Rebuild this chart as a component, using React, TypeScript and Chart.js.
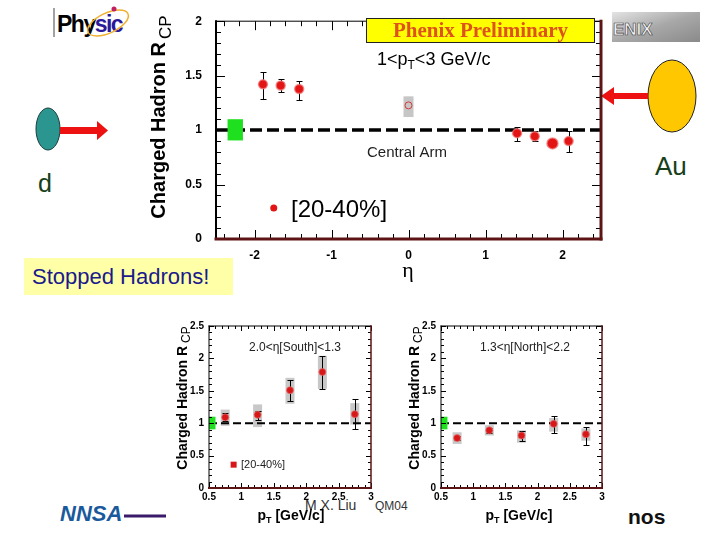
import React, { useEffect, useRef } from "react";
import { Chart, registerables } from "chart.js";

Chart.register(...registerables);

// ---------------- Main panel: R_CP vs eta (1<pT<3 GeV/c, 20-40%) ----------------
const etaValues = [-1.89, -1.66, -1.42, 1.41, 1.64, 1.87, 2.08];
const rcpValues = [1.42, 1.41, 1.377, 0.972, 0.943, 0.878, 0.899];
const rcpErrLow = [1.29, 1.354, 1.28, 0.896, 0.896, 0.878, 0.8];
const rcpErrHigh = [1.53, 1.465, 1.45, 1.033, 0.99, 0.878, 0.996];
const centralEta = [0.0];
const centralRcp = [1.227];
const centralSysLow = [1.12];
const centralSysHigh = [1.31];
const normBoxEta = [-2.35, -2.15];
const normBoxRcp = [0.905, 1.1];
const legendPointMain = [-1.75, 0.285];
const etaTicks = [-2, -1, 0, 1, 2];
const rcpTicksMain = [0, 0.5, 1, 1.5, 2];

// ---------------- Small panels: R_CP vs pT ----------------
const ptValues = [0.75, 1.25, 1.75, 2.25, 2.75];
const southRcp = [1.09, 1.13, 1.51, 1.79, 1.14];
const southErrLow = [1.03, 1.05, 1.35, 1.53, 0.91];
const southErrHigh = [1.15, 1.195, 1.66, 2.04, 1.38];
const southSysLow = [0.96, 0.94, 1.3, 1.53, 0.98];
const southSysHigh = [1.21, 1.29, 1.7, 2.04, 1.31];
const northRcp = [0.77, 0.89, 0.81, 0.99, 0.83];
const northErrLow = [0.74, 0.85, 0.73, 0.85, 0.67];
const northErrHigh = [0.8, 0.93, 0.88, 1.11, 0.94];
const northSysLow = [0.68, 0.81, 0.7, 0.87, 0.73];
const northSysHigh = [0.86, 0.97, 0.89, 1.08, 0.92];
const ptTicks = [0.5, 1, 1.5, 2, 2.5, 3];
const rcpTicksSmall = [0, 0.5, 1, 1.5, 2, 2.5];
const normBoxPt = [0.5, 0.6];
const legendPointSmall = [0.88, 0.36];

const FONT = "'Liberation Sans', Arial, Helvetica, sans-serif";
const SERIF = "'Liberation Serif', 'Times New Roman', serif";
const DARK = "#5e1414";

type Run = [string, string, number];

function drawRuns(ctx: any, runs: Run[], x: number, y: number, align: string, color: string) {
  let total = 0;
  const widths = runs.map(([t, f]) => {
    ctx.font = f;
    const w = ctx.measureText(t).width;
    total += w;
    return w;
  });
  let cx = align === "center" ? x - total / 2 : x;
  ctx.save();
  ctx.fillStyle = color;
  ctx.textAlign = "left";
  ctx.textBaseline = "alphabetic";
  runs.forEach(([t, f, dy], i) => {
    ctx.font = f;
    ctx.fillText(t, cx, y + dy);
    cx += widths[i];
  });
  ctx.restore();
}

function drawYTitle(ctx: any, baseX: number, cy: number, mainFont: string, subFont: string, subShift: number) {
  ctx.save();
  ctx.translate(baseX, cy);
  ctx.rotate(-Math.PI / 2);
  ctx.font = mainFont;
  const w1 = ctx.measureText("Charged Hadron R").width;
  ctx.font = subFont;
  const w2 = ctx.measureText("CP").width;
  const total = w1 + 3 + w2;
  ctx.fillStyle = "#000";
  ctx.textAlign = "left";
  ctx.textBaseline = "alphabetic";
  ctx.font = mainFont;
  ctx.fillText("Charged Hadron R", -total / 2, 0);
  ctx.font = subFont;
  ctx.fillText("CP", -total / 2 + w1 + 3, subShift);
  ctx.restore();
}

function makeRange(a: number, b: number, step: number) {
  const out: number[] = [];
  const n = Math.round((b - a) / step);
  for (let i = 0; i <= n; i++) out.push(+(a + i * step).toFixed(4));
  return out;
}

interface FrameCfg {
  xMinor: number[];
  xMajor: number[];
  yMinor: number[];
  yMajor: number[];
  majLen: number;
  minLen: number;
  leftW: number;
  topW: number;
  rightW: number;
  bottomW: number;
}

function drawFrame(chart: any, c: FrameCfg) {
  const { ctx, chartArea: a } = chart;
  const xs = chart.scales.x;
  const ys = chart.scales.y;
  const isMaj = (arr: number[], v: number) => arr.some((m) => Math.abs(m - v) < 1e-6);
  const seg = (x1: number, y1: number, x2: number, y2: number) => {
    ctx.beginPath();
    ctx.moveTo(x1, y1);
    ctx.lineTo(x2, y2);
    ctx.stroke();
  };
  ctx.save();
  ctx.strokeStyle = "#000";
  ctx.lineWidth = 1;
  c.xMinor.forEach((v) => {
    const p = Math.round(xs.getPixelForValue(v)) + 0.5;
    const L = isMaj(c.xMajor, v) ? c.majLen : c.minLen;
    seg(p, a.bottom, p, a.bottom - L);
    seg(p, a.top, p, a.top + L);
  });
  c.yMinor.forEach((v) => {
    const p = Math.round(ys.getPixelForValue(v)) + 0.5;
    const L = isMaj(c.yMajor, v) ? c.majLen : c.minLen;
    seg(a.left, p, a.left + L, p);
    seg(a.right, p, a.right - L, p);
  });
  ctx.lineCap = "square";
  ctx.strokeStyle = "#000";
  ctx.lineWidth = c.topW;
  seg(a.left, a.top, a.right, a.top);
  ctx.lineWidth = c.leftW;
  seg(a.left, a.top, a.left, a.bottom);
  ctx.strokeStyle = DARK;
  ctx.lineWidth = c.bottomW;
  seg(a.left, a.bottom, a.right, a.bottom);
  ctx.lineWidth = c.rightW;
  seg(a.right, a.top, a.right, a.bottom);
  ctx.restore();
}

function drawErrorBars(chart: any, xv: number[], lo: number[], hi: number[], cap: number) {
  const { ctx } = chart;
  const xs = chart.scales.x;
  const ys = chart.scales.y;
  ctx.save();
  ctx.strokeStyle = "#000";
  ctx.lineWidth = 1;
  xv.forEach((v, i) => {
    if (hi[i] - lo[i] < 1e-6) return;
    const px = Math.round(xs.getPixelForValue(v)) + 0.5;
    const y1 = Math.round(ys.getPixelForValue(hi[i])) + 0.5;
    const y2 = Math.round(ys.getPixelForValue(lo[i])) + 0.5;
    ctx.beginPath();
    ctx.moveTo(px, y1);
    ctx.lineTo(px, y2);
    ctx.moveTo(px - cap, y1);
    ctx.lineTo(px + cap, y1);
    ctx.moveTo(px - cap, y2);
    ctx.lineTo(px + cap, y2);
    ctx.stroke();
  });
  ctx.restore();
}

function drawSysBoxes(chart: any, xv: number[], lo: number[], hi: number[], half: number, color: string) {
  const { ctx } = chart;
  const xs = chart.scales.x;
  const ys = chart.scales.y;
  ctx.save();
  ctx.fillStyle = color;
  xv.forEach((v, i) => {
    const px = xs.getPixelForValue(v);
    const y1 = ys.getPixelForValue(hi[i]);
    const y2 = ys.getPixelForValue(lo[i]);
    ctx.fillRect(px - half, y1, half * 2, y2 - y1);
  });
  ctx.restore();
}

function drawDataBox(chart: any, xr: number[], yr: number[], color: string) {
  const { ctx } = chart;
  const xs = chart.scales.x;
  const ys = chart.scales.y;
  const x1 = xs.getPixelForValue(xr[0]);
  const x2 = xs.getPixelForValue(xr[1]);
  const y1 = ys.getPixelForValue(yr[1]);
  const y2 = ys.getPixelForValue(yr[0]);
  ctx.save();
  ctx.fillStyle = color;
  ctx.fillRect(x1, y1, x2 - x1, y2 - y1);
  ctx.restore();
}

function axisTicks(font: number, padding: number) {
  return {
    color: "#000",
    font: { family: FONT, size: font, weight: "bold" },
    padding,
    maxRotation: 0,
    autoSkip: false,
    callback: (v: any) => String(v),
  };
}

function buildMain() {
  const OX = 130;
  const OY = 0;
  const plugin = {
    id: "mainDecor",
    beforeDatasetsDraw(chart: any) {
      drawSysBoxes(chart, centralEta, centralSysLow, centralSysHigh, 5, "#c6c6c6");
      drawErrorBars(chart, etaValues, rcpErrLow, rcpErrHigh, 3);
    },
    afterDatasetsDraw(chart: any) {
      drawDataBox(chart, normBoxEta, normBoxRcp, "#1fe01f");
      drawFrame(chart, {
        xMinor: makeRange(-2.4, 2.4, 0.2),
        xMajor: etaTicks,
        yMinor: makeRange(0, 2, 0.1),
        yMajor: rcpTicksMain,
        majLen: 9,
        minLen: 5,
        leftW: 2,
        topW: 1,
        rightW: 3,
        bottomW: 3,
      });
    },
    afterDraw(chart: any) {
      const { ctx } = chart;
      const xs = chart.scales.x;
      const ys = chart.scales.y;
      // Phenix Preliminary box
      ctx.save();
      ctx.fillStyle = "#ffff00";
      ctx.fillRect(366.5 - OX, 18 - OY, 228, 24);
      ctx.strokeStyle = "#222";
      ctx.lineWidth = 1;
      ctx.strokeRect(366.5 - OX, 18.5 - OY, 228, 24);
      ctx.restore();
      drawRuns(ctx, [["Phenix Preliminary", `bold 21px ${SERIF}`, 0]], 480.5 - OX, 37 - OY, "center", "#de521c");
      drawRuns(
        ctx,
        [
          ["1<p", `18px ${FONT}`, 0],
          ["T", `12px ${FONT}`, 4],
          ["<3 GeV/c", `18px ${FONT}`, 0],
        ],
        377 - OX,
        65 - OY,
        "left",
        "#000"
      );
      drawRuns(ctx, [["Central Arm", `15px ${FONT}`, 0]], 367 - OX, 157 - OY, "left", "#222");
      // legend marker
      ctx.save();
      ctx.fillStyle = "#e31414";
      ctx.beginPath();
      ctx.arc(xs.getPixelForValue(legendPointMain[0]), ys.getPixelForValue(legendPointMain[1]), 3.5, 0, Math.PI * 2);
      ctx.fill();
      ctx.restore();
      drawRuns(ctx, [["[20-40%]", `24px ${FONT}`, 0]], 291 - OX, 217 - OY, "left", "#000");
      drawRuns(ctx, [["η", `22px ${SERIF}`, 0]], 408 - OX, 277 - OY, "center", "#000");
      drawYTitle(ctx, 165 - OX, 117 - OY, `bold 20px ${FONT}`, `17px ${FONT}`, 6);
    },
  };
  return {
    type: "scatter",
    data: {
      datasets: [
        {
          type: "line",
          data: [
            { x: -2.5, y: 1 },
            { x: 2.5, y: 1 },
          ],
          borderColor: "#000",
          borderWidth: 3.5,
          borderDash: [12, 5],
          pointRadius: 0,
          order: 3,
        },
        {
          data: etaValues.map((x, i) => ({ x, y: rcpValues[i] })),
          backgroundColor: "#e31414",
          borderColor: "rgba(240,120,120,0.75)",
          borderWidth: 1.5,
          pointRadius: [4.5, 4.5, 4.5, 4.5, 4.5, 5.5, 4.5],
          order: 0,
        },
        {
          data: centralEta.map((x, i) => ({ x, y: centralRcp[i] })),
          backgroundColor: "rgba(0,0,0,0)",
          borderColor: "#d83838",
          borderWidth: 1,
          pointRadius: 3.5,
          order: 1,
        },
      ],
    },
    options: {
      responsive: false,
      animation: false,
      events: [],
      layout: { padding: { left: 0, top: 12, right: 9, bottom: 0 } },
      plugins: { legend: { display: false }, tooltip: { enabled: false } },
      scales: {
        x: {
          type: "linear",
          min: -2.5,
          max: 2.5,
          grid: { display: false, drawTicks: false },
          border: { display: false },
          ticks: axisTicks(12, 9),
          afterBuildTicks: (s: any) => {
            s.ticks = etaTicks.map((v) => ({ value: v }));
          },
          afterFit: (s: any) => {
            s.height = 51;
          },
        },
        y: {
          type: "linear",
          min: 0,
          max: 2,
          grid: { display: false, drawTicks: false },
          border: { display: false },
          ticks: axisTicks(12, 14),
          afterBuildTicks: (s: any) => {
            s.ticks = rcpTicksMain.map((v) => ({ value: v }));
          },
          afterFit: (s: any) => {
            s.width = 86;
          },
        },
      },
    },
    plugins: [plugin],
  };
}

interface SmallCfg {
  ox: number;
  oy: number;
  yAxisW: number;
  padRight: number;
  rcp: number[];
  errLo: number[];
  errHi: number[];
  sysLo: number[];
  sysHi: number[];
  label: string;
  labelX: number;
  yTitleX: number;
  xTitleX: number;
  legend: boolean;
}

function buildSmall(c: SmallCfg) {
  const OX = c.ox;
  const OY = c.oy;
  const plugin = {
    id: "smallDecor",
    beforeDatasetsDraw(chart: any) {
      drawSysBoxes(chart, ptValues, c.sysLo, c.sysHi, 4.5, "#c8c8c8");
      drawErrorBars(chart, ptValues, c.errLo, c.errHi, 3);
    },
    afterDatasetsDraw(chart: any) {
      drawDataBox(chart, normBoxPt, normBoxRcp, "#1fe01f");
      drawFrame(chart, {
        xMinor: makeRange(0.5, 3, 0.1),
        xMajor: ptTicks,
        yMinor: makeRange(0, 2.5, 0.1),
        yMajor: rcpTicksSmall,
        majLen: 5,
        minLen: 3,
        leftW: 1,
        topW: 1,
        rightW: 1.5,
        bottomW: 2,
      });
    },
    afterDraw(chart: any) {
      const { ctx } = chart;
      const xs = chart.scales.x;
      const ys = chart.scales.y;
      drawRuns(ctx, [[c.label, `12px ${FONT}`, 0]], c.labelX - OX, 351 - OY, "center", "#222");
      if (c.legend) {
        ctx.save();
        ctx.fillStyle = "#d81818";
        ctx.fillRect(xs.getPixelForValue(legendPointSmall[0]) - 3, ys.getPixelForValue(legendPointSmall[1]) - 3, 6, 6);
        ctx.restore();
        drawRuns(ctx, [["[20-40%]", `11px ${FONT}`, 0]], 241 - OX, 468 - OY, "left", "#222");
      }
      drawRuns(
        ctx,
        [
          ["p", `bold 14px ${FONT}`, 0],
          ["T", `bold 9px ${FONT}`, 3],
          [" [GeV/c]", `bold 14px ${FONT}`, 0],
        ],
        c.xTitleX - OX,
        520 - OY,
        "center",
        "#000"
      );
      drawYTitle(ctx, c.yTitleX - OX, 398 - OY, `bold 14px ${FONT}`, `12px ${FONT}`, 3);
    },
  };
  return {
    type: "scatter",
    data: {
      datasets: [
        {
          type: "line",
          data: [
            { x: 0.5, y: 1 },
            { x: 3, y: 1 },
          ],
          borderColor: "#000",
          borderWidth: 2,
          borderDash: [8, 4],
          pointRadius: 0,
          order: 3,
        },
        {
          data: ptValues.map((x, i) => ({ x, y: c.rcp[i] })),
          backgroundColor: "#d81818",
          borderColor: "rgba(230,110,110,0.7)",
          borderWidth: 1,
          pointRadius: 3.5,
          order: 0,
        },
      ],
    },
    options: {
      responsive: false,
      animation: false,
      events: [],
      layout: { padding: { left: 0, top: 8, right: c.padRight, bottom: 0 } },
      plugins: { legend: { display: false }, tooltip: { enabled: false } },
      scales: {
        x: {
          type: "linear",
          min: 0.5,
          max: 3,
          grid: { display: false, drawTicks: false },
          border: { display: false },
          ticks: axisTicks(10, 3),
          afterBuildTicks: (s: any) => {
            s.ticks = ptTicks.map((v) => ({ value: v }));
          },
          afterFit: (s: any) => {
            s.height = 52;
          },
        },
        y: {
          type: "linear",
          min: 0,
          max: 2.5,
          grid: { display: false, drawTicks: false },
          border: { display: false },
          ticks: axisTicks(10, 5),
          afterBuildTicks: (s: any) => {
            s.ticks = rcpTicksSmall.map((v) => ({ value: v }));
          },
          afterFit: (s: any) => {
            s.width = c.yAxisW;
          },
        },
      },
    },
    plugins: [plugin],
  };
}

function ChartCanvas(props: { left: number; top: number; width: number; height: number; build: () => any }) {
  const ref = useRef<HTMLCanvasElement | null>(null);
  useEffect(() => {
    const chart = new Chart(ref.current as HTMLCanvasElement, props.build());
    return () => chart.destroy();
  }, []);
  return (
    <canvas
      ref={ref}
      width={props.width}
      height={props.height}
      style={{ position: "absolute", left: props.left, top: props.top, width: props.width + "px", height: props.height + "px" }}
    />
  );
}

export default function App() {
  return (
    <div style={{ position: "absolute", left: 0, top: 0, width: 720, height: 540, background: "#fff", overflow: "hidden" }}>
      <svg width={720} height={540} style={{ position: "absolute", left: 0, top: 0 }}>
        <defs>
          <linearGradient id="phx" x1="0" y1="0" x2="1" y2="1">
            <stop offset="0" stopColor="#e4e4e4" />
            <stop offset="0.5" stopColor="#a8a8a8" />
            <stop offset="1" stopColor="#8a8a8a" />
          </linearGradient>
        </defs>
        {/* Physics logo */}
        <line x1={54} y1={8} x2={54} y2={37} stroke="#444" strokeWidth={1} />
        <text x={57} y={32} fontFamily={FONT} fontWeight="bold" fontSize={23} letterSpacing={-1.5}>
          <tspan fill="#000">Phy</tspan>
          <tspan fill="#2a1a9a">sic</tspan>
        </text>
        <ellipse cx={108} cy={23} rx={22} ry={10} fill="none" stroke="#f0b030" strokeWidth={1.5} transform="rotate(-25 108 23)" />
        <circle cx={114} cy={9} r={2.5} fill="#c02060" />
        {/* PHENIX logo */}
        <rect x={612} y={12} width={88} height={30} fill="url(#phx)" />
        <text x={613} y={35} fontFamily={FONT} fontWeight="bold" fontSize={17} fill="#f4f4f4" stroke="#444" strokeWidth={0.6}>
          ENIX
        </text>
        {/* deuteron */}
        <ellipse cx={48} cy={129} rx={12} ry={21} fill="#2a968f" stroke="#1d3b3a" strokeWidth={1} />
        <polygon points="60,127 97,127 97,121 108,130.5 97,140 97,134 60,134" fill="#ee1111" />
        <text x={38} y={192} fontFamily={FONT} fontSize={25} fill="#17401a">
          d
        </text>
        {/* gold */}
        <ellipse cx={672} cy={96} rx={24} ry={36} fill="#ffc700" stroke="#222" strokeWidth={1} />
        <polygon points="648,93 614,93 614,87 601,96 614,105 614,99 648,99" fill="#ee1111" />
        <text x={655} y={175} fontFamily={FONT} fontSize={26} fill="#17401a">
          Au
        </text>
        {/* Stopped hadrons */}
        <rect x={24} y={258} width={209} height={37} fill="#ffffa8" />
        <text x={32} y={284} fontFamily={FONT} fontSize={22} fill="#1a1a8c">
          Stopped Hadrons!
        </text>
        {/* footer */}
        <text x={60} y={521} fontFamily={FONT} fontWeight="bold" fontStyle="italic" fontSize={22} fill="#1a5a9c">
          NNSA
        </text>
        <line x1={124} y1={516} x2={166} y2={516} stroke="#3a1a6a" strokeWidth={3} />
        <text x={305} y={510} fontFamily={FONT} fontSize={14} fill="#333">
          M X. Liu
        </text>
        <text x={375} y={510} fontFamily={FONT} fontSize={12} fill="#333">
          QM04
        </text>
        <text x={628} y={524} fontFamily={FONT} fontWeight="bold" fontSize={21} fill="#111">
          nos
        </text>
      </svg>
      <ChartCanvas left={130} top={0} width={480} height={290} build={buildMain} />
      <ChartCanvas
        left={160}
        top={315}
        width={230}
        height={225}
        build={() =>
          buildSmall({
            ox: 160,
            oy: 315,
            yAxisW: 49,
            padRight: 19,
            rcp: southRcp,
            errLo: southErrLow,
            errHi: southErrHigh,
            sysLo: southSysLow,
            sysHi: southSysHigh,
            label: "2.0<η[South]<1.3",
            labelX: 295,
            yTitleX: 187,
            xTitleX: 291,
            legend: true,
          })
        }
      />
      <ChartCanvas
        left={400}
        top={315}
        width={220}
        height={225}
        build={() =>
          buildSmall({
            ox: 400,
            oy: 315,
            yAxisW: 41,
            padRight: 18,
            rcp: northRcp,
            errLo: northErrLow,
            errHi: northErrHigh,
            sysLo: northSysLow,
            sysHi: northSysHigh,
            label: "1.3<η[North]<2.2",
            labelX: 525,
            yTitleX: 419,
            xTitleX: 519,
            legend: false,
          })
        }
      />
    </div>
  );
}
